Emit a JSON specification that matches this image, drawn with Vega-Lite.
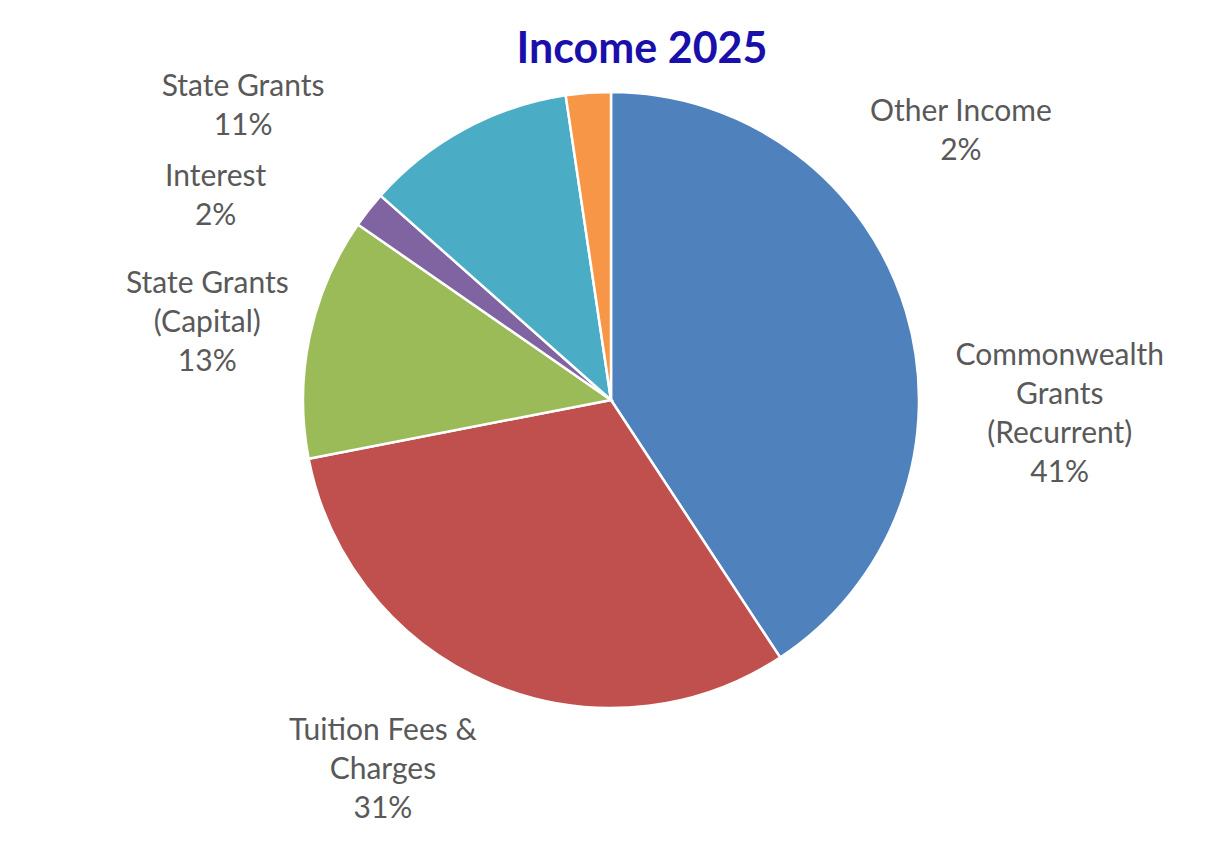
{
  "$schema": "https://vega.github.io/schema/vega-lite/v6.json",
  "autosize": "none",
  "width": 1198,
  "height": 800,
  "padding": {"left": 12, "top": 0, "right": 0, "bottom": 61},
  "background": "white",
  "config": {"view": {"stroke": null}},
  "title": {"text": "Income 2025", "font": "Lato", "fontSize": 43, "fontWeight": "bold", "color": "#190FAA", "anchor": "middle", "baseline": "alphabetic", "offset": -106, "dx": 31},
  "data": {"values": [
    {"category": "Commonwealth Grants (Recurrent)", "value": 40.75, "label": "Commonwealth\nGrants\n(Recurrent)\n41%"},
    {"category": "Tuition Fees & Charges", "value": 31.2, "label": "Tuition Fees &\nCharges\n31%"},
    {"category": "State Grants (Capital)", "value": 12.7, "label": "State Grants\n(Capital)\n13%"},
    {"category": "Interest", "value": 1.9, "label": "Interest\n2%"},
    {"category": "State Grants", "value": 11.1, "label": "State Grants\n11%"},
    {"category": "Other Income", "value": 2.35, "label": "Other Income\n2%"}
  ]},
  "transform": [{"window": [{"op": "row_number", "as": "ord"}]}],
  "encoding": {
    "theta": {"field": "value", "type": "quantitative", "stack": true},
    "order": {"field": "ord", "type": "quantitative"}
  },
  "layer": [
    {
      "mark": {"type": "arc", "outerRadius": 308, "stroke": "white", "strokeWidth": 2.5},
      "encoding": {
        "color": {"field": "category", "type": "nominal", "legend": null,
          "scale": {"domain": ["Commonwealth Grants (Recurrent)", "Tuition Fees & Charges", "State Grants (Capital)", "Interest", "State Grants", "Other Income"],
                    "range": ["#4F81BD", "#C0504D", "#9BBB59", "#8064A2", "#4BACC6", "#F79646"]}}
      }
    },
    {
      "mark": {"type": "text", "radius": 340, "font": "Lato", "fontSize": 30, "color": "#595959", "lineBreak": "\n", "lineHeight": 39, "align": "center", "baseline": "middle", "dx": 123, "dy": 53},
      "encoding": {"text": {"condition": {"test": "datum.category === 'Commonwealth Grants (Recurrent)'", "field": "label", "type": "nominal"}, "value": ""}}
    },
    {
      "mark": {"type": "text", "radius": 340, "font": "Lato", "fontSize": 30, "color": "#595959", "lineBreak": "\n", "lineHeight": 39, "align": "center", "baseline": "middle", "dx": -96, "dy": 18},
      "encoding": {"text": {"condition": {"test": "datum.category === 'Tuition Fees & Charges'", "field": "label", "type": "nominal"}, "value": ""}}
    },
    {
      "mark": {"type": "text", "radius": 340, "font": "Lato", "fontSize": 30, "color": "#595959", "lineBreak": "\n", "lineHeight": 39, "align": "center", "baseline": "middle", "dx": -71, "dy": -46},
      "encoding": {"text": {"condition": {"test": "datum.category === 'State Grants (Capital)'", "field": "label", "type": "nominal"}, "value": ""}}
    },
    {
      "mark": {"type": "text", "radius": 340, "font": "Lato", "fontSize": 30, "color": "#595959", "lineBreak": "\n", "lineHeight": 39, "align": "center", "baseline": "middle", "dx": -128, "dy": -13},
      "encoding": {"text": {"condition": {"test": "datum.category === 'Interest'", "field": "label", "type": "nominal"}, "value": ""}}
    },
    {
      "mark": {"type": "text", "radius": 340, "font": "Lato", "fontSize": 30, "color": "#595959", "lineBreak": "\n", "lineHeight": 39, "align": "center", "baseline": "middle", "dx": -206, "dy": -14},
      "encoding": {"text": {"condition": {"test": "datum.category === 'State Grants'", "field": "label", "type": "nominal"}, "value": ""}}
    },
    {
      "mark": {"type": "text", "radius": 340, "font": "Lato", "fontSize": 30, "color": "#595959", "lineBreak": "\n", "lineHeight": 39, "align": "center", "baseline": "middle", "dx": 375, "dy": 51},
      "encoding": {"text": {"condition": {"test": "datum.category === 'Other Income'", "field": "label", "type": "nominal"}, "value": ""}}
    }
  ]
}
